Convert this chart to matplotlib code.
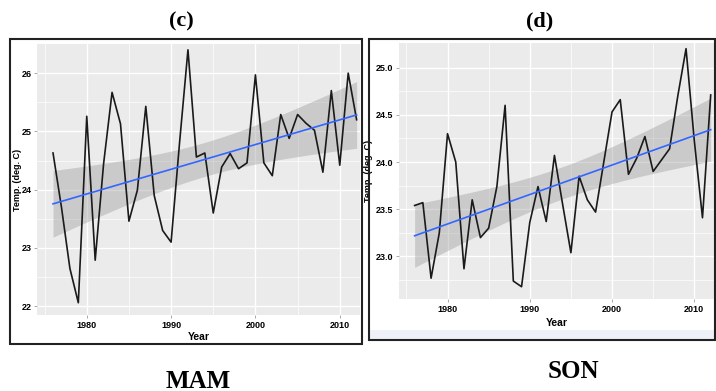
import matplotlib.pyplot as plt
import numpy as np
from matplotlib.patches import Rectangle

years = np.arange(1976, 2013)

mam = [24.63, 23.70, 22.65, 22.06, 25.26, 22.79, 24.45, 25.67, 25.13, 23.46,
       23.99, 25.43, 23.90, 23.30, 23.10, 24.80, 26.40, 24.56, 24.63, 23.60,
       24.39, 24.62, 24.36, 24.46, 25.97, 24.46, 24.24, 25.29, 24.88, 25.29,
       25.14, 25.02, 24.30, 25.70, 24.42, 26.00, 25.20]

son = [23.54, 23.57, 22.77, 23.25, 24.30, 24.00, 22.87, 23.60, 23.20, 23.30,
       23.74, 24.60, 22.74, 22.68, 23.36, 23.74, 23.37, 24.07, 23.55, 23.04,
       23.85, 23.60, 23.47, 24.00, 24.53, 24.66, 23.87, 24.04, 24.27, 23.90,
       24.02, 24.14, 24.70, 25.20, 24.23, 23.41, 24.71]

W, H = 716, 391
fig = plt.figure(figsize=(W / 100, H / 100), dpi=100)

sans = ['Liberation Sans Narrow', 'Liberation Sans', 'DejaVu Sans']
tick_font = dict(family=sans, weight='bold', size=6.5)


def px_axes(x0, y0, x1, y1):
    return fig.add_axes([x0 / W, 1 - y1 / H, (x1 - x0) / W, (y1 - y0) / H])


def lm_band(x, y, xs, t=2.03):
    x = np.asarray(x, float)
    y = np.asarray(y, float)
    b, a = np.polyfit(x, y, 1)
    resid = y - (a + b * x)
    n = len(x)
    s = np.sqrt(np.sum(resid ** 2) / (n - 2))
    se = s * np.sqrt(1 / n + (xs - x.mean()) ** 2 / np.sum((x - x.mean()) ** 2))
    fit = a + b * xs
    return fit, fit - t * se, fit + t * se


def panel(ax, y, ylim, yticks, yminor, ylabels, ylab_x, xlab_y):
    ax.set_facecolor('#EBEBEB')
    for s in ax.spines.values():
        s.set_visible(False)
    ax.set_xlim(1974.1, 2012.4)
    ax.set_ylim(*ylim)
    ax.set_xticks([1980, 1990, 2000, 2010])
    ax.set_xticks([1975, 1985, 1995, 2005], minor=True)
    ax.set_yticks(yticks)
    ax.set_yticks(yminor, minor=True)
    ax.set_xticklabels(['1980', '1990', '2000', '2010'], **tick_font)
    ax.set_yticklabels(ylabels, **tick_font)
    ax.grid(True, which='major', color='white', lw=1.0)
    ax.grid(True, which='minor', color='white', lw=0.5)
    ax.set_axisbelow(True)
    ax.tick_params(which='major', length=2, width=0.5, color='#888888', pad=2)
    ax.tick_params(which='minor', length=0)

    xs = np.linspace(years[0], years[-1], 100)
    fit, lo, hi = lm_band(years, y, xs)
    ax.fill_between(xs, lo, hi, color='#999999', alpha=0.4, lw=0, zorder=2)
    ax.plot(years, y, color='#1a1a1a', lw=1.2, zorder=3)
    ax.plot(xs, fit, color='#3366FF', lw=1.2, zorder=4)
    ax.set_xlabel('Year', family=sans, weight='bold', size=7.5)
    ax.set_ylabel('Temp. (deg. C)', family=['Liberation Sans', 'DejaVu Sans'],
                  weight='bold', size=6.5)
    ax.yaxis.set_label_coords(ylab_x, 0.5)
    ax.xaxis.set_label_coords(0.5, xlab_y)


# box outlines and background strip
fig.patches.append(Rectangle((10 / W, 1 - 344 / H), 352 / W, 305 / H, transform=fig.transFigure,
                             fill=False, ec='#222222', lw=1.5))
fig.patches.append(Rectangle((369 / W, 1 - 339 / H), 346 / W, 9 / H, transform=fig.transFigure,
                             fc='#EEF2F8', ec='none'))
fig.patches.append(Rectangle((369 / W, 1 - 340 / H), 346 / W, 301 / H, transform=fig.transFigure,
                             fill=False, ec='#222222', lw=1.5))

ax1 = px_axes(37, 44, 360, 315)
panel(ax1, mam, (21.85, 26.5), [22, 23, 24, 25, 26], [22.5, 23.5, 24.5, 25.5],
      ['22', '23', '24', '25', '26'], -0.046, -0.062)

ax2 = px_axes(399, 43, 714, 299)
panel(ax2, son, (22.55, 25.26), [23.0, 23.5, 24.0, 24.5, 25.0], [22.75, 23.25, 23.75, 24.25, 24.75],
      ['23.0', '23.5', '24.0', '24.5', '25.0'], -0.083, -0.074)

serif = ['Liberation Serif', 'DejaVu Serif']
fig.text(181 / W, 1 - 21 / H, '(c)', family=serif, weight='bold', size=16, ha='center', va='center')
fig.text(540 / W, 1 - 21 / H, '(d)', family=serif, weight='bold', size=16, ha='center', va='center')
fig.text(198 / W, 1 - 381 / H, 'MAM', family=serif, weight='bold', size=18, ha='center', va='center')
fig.text(573 / W, 1 - 371 / H, 'SON', family=serif, weight='bold', size=18, ha='center', va='center')

fig.savefig('out.png', dpi=100)
